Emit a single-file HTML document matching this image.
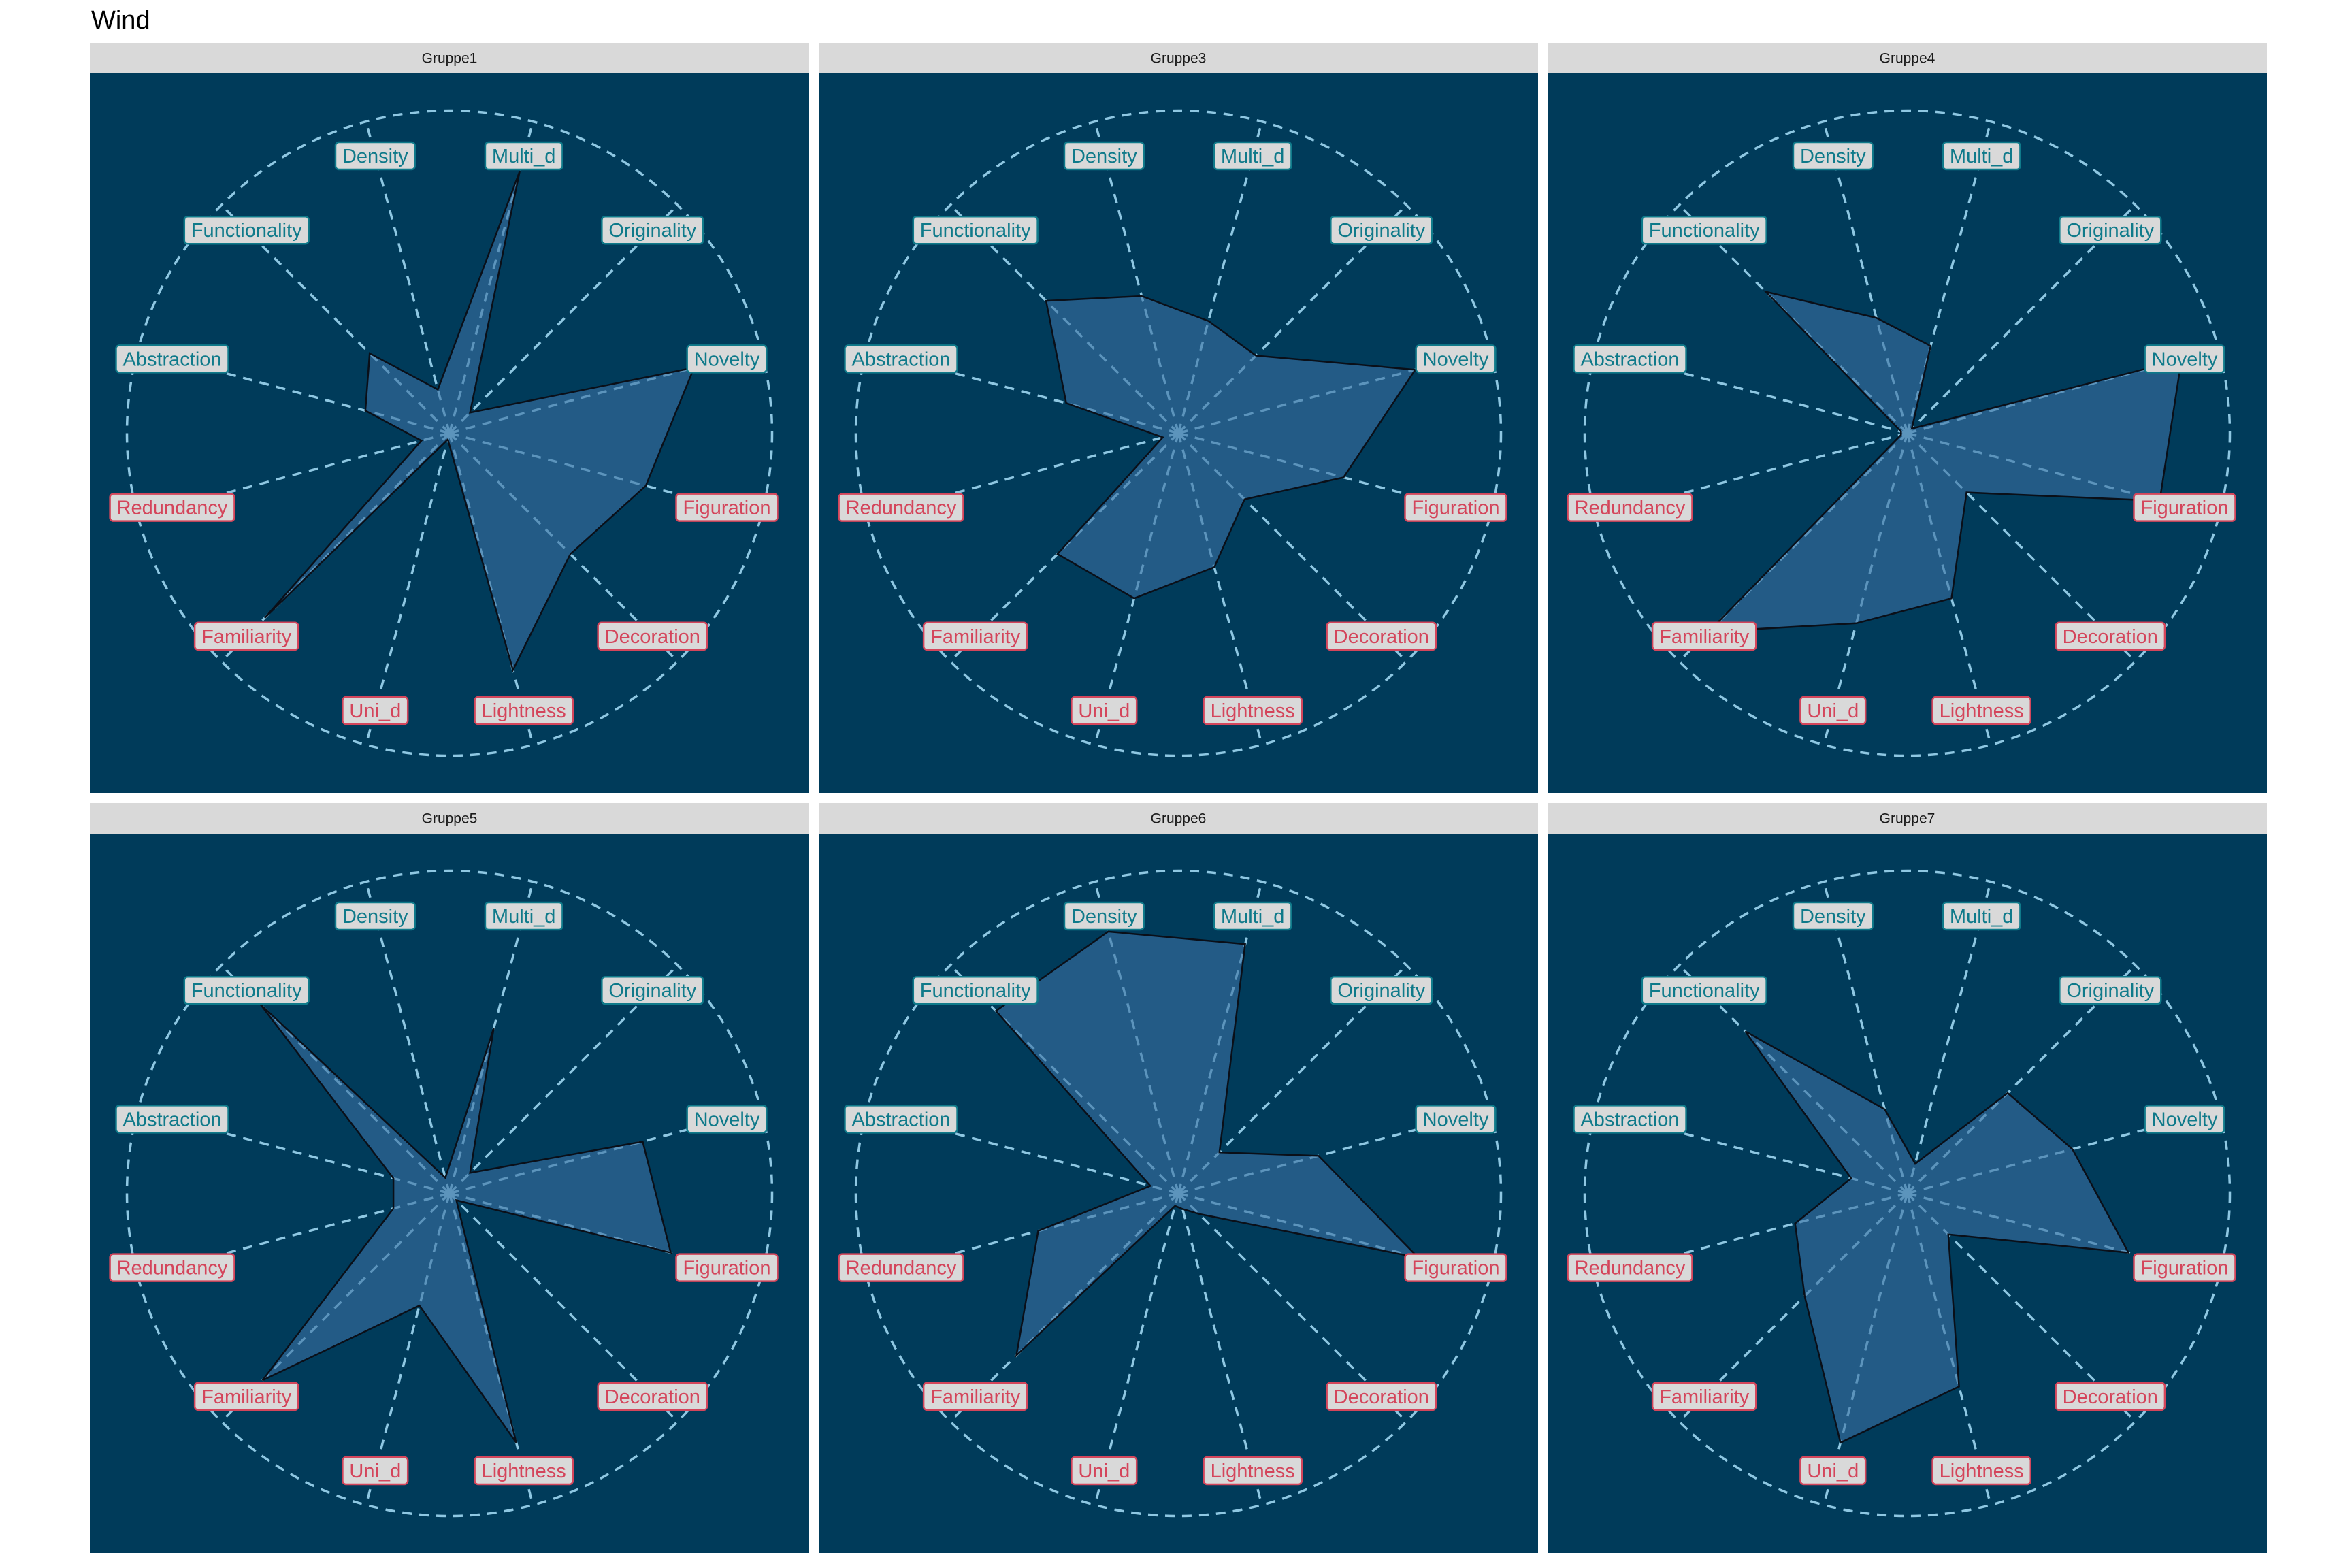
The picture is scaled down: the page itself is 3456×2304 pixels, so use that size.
<!DOCTYPE html>
<html><head><meta charset="utf-8"><style>
html,body{margin:0;padding:0;background:#fff;}
svg{display:block;font-family:"Liberation Sans",sans-serif;}
</style></head><body>
<svg id="chart" width="3456" height="2304" viewBox="0 0 3456 2304" xmlns="http://www.w3.org/2000/svg">
<text x="134" y="42" font-size="38" fill="#000">Wind</text>
</svg>
<script>
const axisLabels = ["Density","Multi_d","Originality","Novelty","Figuration","Decoration","Lightness","Uni_d","Familiarity","Redundancy","Abstraction","Functionality"];
const groupNames = ["Gruppe1","Gruppe3","Gruppe4","Gruppe5","Gruppe6","Gruppe7"];
const gruppe1 = [0.14,0.84,0.09,0.785,0.63,0.53,0.76,0.02,0.81,0.09,0.27,0.35];
const gruppe3 = [0.44,0.36,0.34,0.76,0.53,0.29,0.43,0.53,0.53,0.05,0.36,0.58];
const gruppe4 = [0.37,0.28,0.02,0.88,0.81,0.26,0.53,0.61,0.87,0.02,0.02,0.62];
const gruppe5 = [0.05,0.53,0.09,0.62,0.71,0.03,0.80,0.36,0.82,0.18,0.18,0.83];
const gruppe6 = [0.84,0.80,0.18,0.45,0.77,0.09,0.05,0.04,0.71,0.45,0.09,0.80];
const gruppe7 = [0.27,0.095,0.44,0.53,0.71,0.18,0.62,0.80,0.45,0.36,0.18,0.71];
const seriesValues = [gruppe1,gruppe3,gruppe4,gruppe5,gruppe6,gruppe7];

const NS="http://www.w3.org/2000/svg";
const svg=document.getElementById('chart');
function mk(tag,attrs,parent){const e=document.createElementNS(NS,tag);for(const k in attrs)e.setAttribute(k,attrs[k]);(parent||svg).appendChild(e);return e;}
const PW=1057, colX=[132,1203,2274], rowStrip=[63,1180], STRIP=45;
const R=474, LABR=0.89;
function angle(i){return (-15+30*i)*Math.PI/180;}
function px(cx,i,v){return cx+Math.sin(angle(i))*R*v;}
function py(cy,i,v){return cy-Math.cos(angle(i))*R*v;}
function measure(t){const e=mk('text',{'font-size':29});e.textContent=t;const w=e.getComputedTextLength();svg.removeChild(e);return w;}

groupNames.forEach((g,gi)=>{
  const x0=colX[gi%3], sy=rowStrip[Math.floor(gi/3)], py0=sy+STRIP;
  const grp=mk('g',{});
  
  
  const strip=mk('rect',{x:x0,y:sy,width:PW,height:STRIP,fill:'#d9d9d9'},grp);
  
  
  const st=mk('text',{x:x0+PW/2,y:sy+STRIP/2+7,'font-size':21,'text-anchor':'middle',fill:'#1a1a1a'},grp);
  st.textContent=g;
  
  
  const bg=mk('rect',{x:x0,y:py0,width:PW,height:PW,fill:'#003b5a'},grp);
  
  
  const cx=x0+PW/2, cy=py0+PW/2;
  const circ=mk('circle',{cx:cx,cy:cy,r:R,fill:'none',stroke:'#8ec7e2','stroke-width':3.5,'stroke-dasharray':'14 11'},grp);
  
  
  axisLabels.forEach((a,i)=>{
    const l=mk('line',{x1:cx,y1:cy,x2:px(cx,i,1),y2:py(cy,i,1),stroke:'#8ec7e2','stroke-width':3.5,'stroke-dasharray':'14 11'},grp);
    
    
  });
  const vals=seriesValues[gi];
  const pts=vals.map((v,i)=>px(cx,i,v).toFixed(1)+','+py(cy,i,v).toFixed(1)).join(' ');
  const poly=mk('polygon',{points:pts,fill:'#3a72a4','fill-opacity':0.6,stroke:'#0a0f18','stroke-width':2.5},grp);
  
  
  axisLabels.forEach((a,i)=>{
    const lx=px(cx,i,LABR), ly=py(cy,i,LABR);
    const top=(i<=3||i>=10);
    const col=top?'#0f7a8a':'#d4455b';
    const w=measure(a)+20, h=40;
    const lg=mk('g',{},grp);
    
    
    mk('rect',{x:lx-w/2,y:ly-h/2,width:w,height:h,rx:5,fill:'#d9d9d9',stroke:col,'stroke-width':2.5},lg);
    const t=mk('text',{x:lx,y:ly+10,'font-size':29,'text-anchor':'middle',fill:col},lg);
    t.textContent=a;
  });
});
</script>
</body></html>
